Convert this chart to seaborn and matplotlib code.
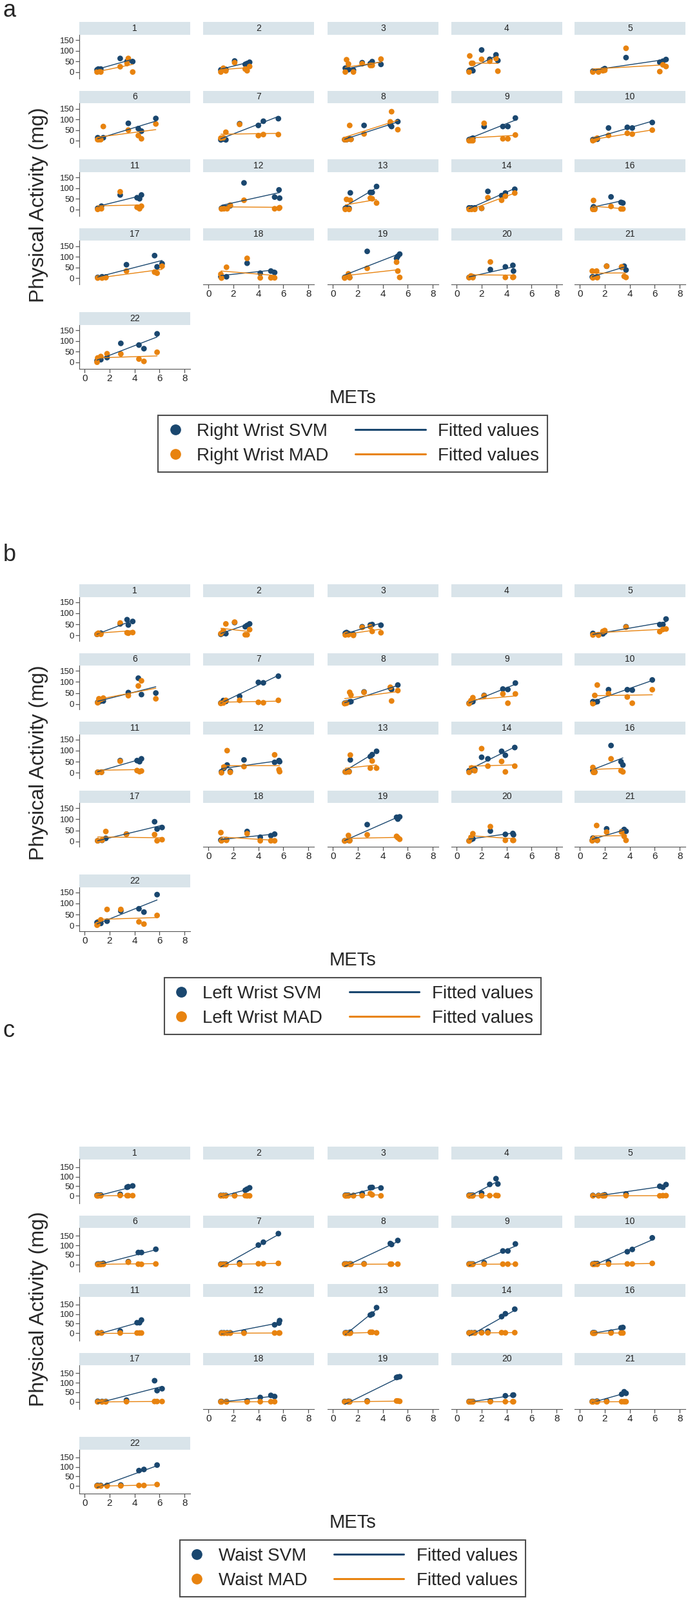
import numpy as np
import pandas as pd
import seaborn as sns
import matplotlib
matplotlib.use("Agg")
import matplotlib.pyplot as plt
from matplotlib.lines import Line2D
from matplotlib.patches import Rectangle
from matplotlib.legend_handler import HandlerLine2D

# subjects shown in each facet grid (15 is missing)
subjects = [1, 2, 3, 4, 5, 6, 7, 8, 9, 10, 11, 12, 13, 14, 16, 17, 18, 19, 20, 21, 22]

# METs of each activity, per subject
mets = {
    1: [1.0, 1.1, 1.3, 2.85, 3.4, 3.5, 3.85],
    2: [1.0, 1.2, 1.4, 2.1, 2.95, 3.1, 3.3],
    3: [1.0, 1.1, 1.25, 1.65, 2.35, 3.0, 3.15, 3.85],
    4: [1.0, 1.05, 1.2, 1.3, 2.0, 2.65, 3.15, 3.3],
    5: [1.05, 1.5, 1.85, 2.0, 3.7, 6.4, 6.65, 6.9],
    6: [1.05, 1.15, 1.3, 1.5, 3.5, 4.3, 4.55, 5.7],
    7: [1.0, 1.2, 1.4, 2.5, 4.0, 4.4, 5.6],
    8: [0.95, 1.1, 1.35, 1.45, 2.5, 4.6, 4.7, 5.2],
    9: [1.0, 1.15, 1.3, 2.2, 3.7, 4.1, 4.7],
    10: [1.05, 1.2, 1.4, 2.3, 3.8, 4.2, 5.8],
    11: [1.05, 1.35, 2.85, 4.2, 4.4, 4.55],
    12: [1.05, 1.25, 1.5, 1.75, 2.85, 5.3, 5.65, 5.7],
    13: [1.0, 1.1, 1.3, 1.4, 3.0, 3.15, 3.5],
    14: [1.0, 1.2, 1.45, 2.0, 2.5, 3.6, 3.9, 4.65],
    16: [1.05, 1.1, 1.2, 2.5, 3.3, 3.45],
    17: [1.05, 1.4, 1.7, 3.35, 5.6, 5.8, 6.2],
    18: [1.0, 1.05, 1.45, 3.1, 4.15, 5.0, 5.3],
    19: [0.95, 1.25, 1.35, 2.75, 5.1, 5.2, 5.35],
    20: [1.0, 1.15, 1.3, 2.7, 3.9, 4.5, 4.55],
    21: [1.0, 1.05, 1.35, 1.4, 2.15, 3.35, 3.55, 3.7],
    22: [1.0, 1.05, 1.3, 1.8, 2.9, 4.35, 4.75, 5.8],
}

# right wrist (panel a)
rw_svm = {
    1: [10, 14, 14, 64, 50, 55, 49], 2: [10, 15, 12, 52, 36, 40, 46],
    3: [18, 15, 11, 9, 44, 40, 49, 36], 4: [5, 8, 10, 6, 104, 60, 81, 54],
    5: [4, 4, 11, 16, 68, 46, 51, 59], 6: [14, 10, 8, 14, 82, 57, 45, 105],
    7: [4, 8, 4, 80, 72, 92, 104], 8: [5, 5, 8, 7, 72, 75, 67, 90],
    9: [5, 8, 12, 67, 67, 67, 107], 10: [5, 6, 7, 60, 63, 60, 86],
    11: [5, 15, 68, 55, 50, 68], 12: [5, 10, 8, 17, 125, 58, 92, 53],
    13: [5, 8, 5, 78, 80, 80, 108], 14: [7, 7, 7, 5, 85, 65, 77, 95],
    16: [5, 12, 6, 59, 33, 30], 17: [3, 6, 5, 63, 106, 53, 68],
    18: [6, 5, 6, 70, 23, 33, 26], 19: [3, 10, 3, 126, 93, 103, 113],
    20: [3, 5, 6, 40, 53, 60, 33], 21: [5, 5, 5, 5, 56, 51, 56, 38],
    22: [7, 10, 12, 22, 89, 81, 64, 134],
}
rw_mad = {
    1: [0, 2, 0, 25, 40, 64, 0], 2: [0, 18, 5, 44, 14, 6, 26],
    3: [0, 58, 38, 0, 39, 31, 31, 61], 4: [0, 76, 41, 41, 60, 51, 64, 4],
    5: [0, 0, 6, 8, 112, 2, 34, 26], 6: [5, 5, 5, 67, 50, 24, 9, 79],
    7: [12, 14, 40, 77, 24, 29, 29], 8: [5, 5, 72, 6, 32, 89, 137, 52],
    9: [0, 0, 0, 82, 9, 9, 27], 10: [0, 5, 12, 25, 35, 31, 50],
    11: [0, 3, 83, 10, 3, 15], 12: [2, 3, 3, 20, 43, 3, 5, 8],
    13: [0, 47, 0, 43, 53, 50, 30], 14: [0, 0, 0, 5, 55, 43, 62, 77],
    16: [0, 42, 0, 14, 2, 2], 17: [0, 0, 2, 33, 28, 23, 56],
    18: [18, 0, 51, 93, 1, 1, 1], 19: [0, 20, 2, 46, 75, 33, 3],
    20: [2, 10, 2, 76, 3, 3, 5], 21: [33, 1, 33, 2, 56, 53, 8, 3],
    22: [0, 20, 27, 40, 39, 15, 4, 47],
}

# left wrist (panel b), subject 4 has no data
lw_svm = {
    1: [5, 8, 10, 52, 71, 47, 63], 2: [5, 10, 8, 58, 39, 45, 52],
    3: [10, 13, 8, 5, 39, 47, 49, 46], 4: None,
    5: [9, 3, 7, 15, 39, 49, 49, 74], 6: [8, 10, 14, 14, 52, 117, 43, 50],
    7: [5, 16, 12, 35, 98, 96, 126], 8: [4, 6, 10, 11, 55, 73, 66, 86],
    9: [4, 8, 11, 39, 68, 66, 95], 10: [11, 8, 11, 65, 65, 63, 109],
    11: [2, 3, 55, 55, 50, 63], 12: [5, 21, 35, 7, 58, 47, 55, 50],
    13: [4, 4, 6, 58, 73, 82, 97], 14: [9, 12, 16, 70, 63, 97, 79, 114],
    16: [9, 4, 4, 123, 50, 35], 17: [3, 5, 14, 33, 89, 56, 63],
    18: [6, 4, 8, 45, 19, 26, 33], 19: [3, 5, 5, 76, 109, 101, 111],
    20: [3, 8, 12, 47, 32, 36, 30], 21: [5, 15, 8, 5, 57, 44, 54, 46],
    22: [14, 10, 10, 20, 66, 76, 61, 140],
}
lw_mad = {
    1: [5, 10, 5, 56, 12, 10, 13], 2: [8, 21, 52, 60, 3, 3, 26],
    3: [2, 5, 3, 0, 36, 39, 18, 12], 4: None,
    5: [2, 1, 18, 22, 37, 17, 27, 29], 6: [6, 24, 21, 27, 38, 82, 105, 24],
    7: [3, 5, 17, 17, 8, 6, 17], 8: [2, 4, 53, 41, 53, 76, 14, 61],
    9: [2, 16, 29, 37, 46, 4, 46], 10: [2, 39, 86, 47, 32, 4, 65],
    11: [2, 2, 52, 10, 5, 8], 12: [0, 26, 100, 2, 28, 81, 14, 5],
    13: [4, 4, 4, 80, 21, 53, 21], 14: [2, 22, 9, 109, 30, 51, 4, 30],
    16: [24, 2, 2, 63, 9, 4], 17: [3, 6, 45, 33, 31, 3, 8],
    18: [40, 3, 5, 35, 3, 3, 3], 19: [2, 27, 3, 30, 23, 17, 10],
    20: [2, 18, 35, 67, 5, 5, 5], 21: [3, 10, 72, 5, 42, 42, 23, 5],
    22: [2, 5, 26, 73, 73, 17, 7, 46],
}

# waist (panel c)
wa_svm = {
    1: [3, 4, 4, 8, 45, 48, 52], 2: [2, 2, 2, 3, 29, 35, 42],
    3: [3, 3, 3, 2, 12, 43, 44, 41], 4: [3, 3, 3, 3, 14, 60, 90, 62],
    5: [2, 2, 2, 5, 10, 50, 45, 59], 6: [3, 3, 3, 6, 15, 63, 63, 80],
    7: [2, 2, 2, 9, 102, 117, 162], 8: [3, 3, 3, 3, 4, 110, 105, 126],
    9: [3, 3, 3, 9, 71, 71, 108], 10: [3, 5, 5, 13, 67, 79, 140],
    11: [2, 2, 11, 55, 55, 69], 12: [2, 2, 2, 2, 5, 44, 53, 66],
    13: [2, 2, 2, 5, 95, 100, 134], 14: [2, 2, 3, 5, 10, 87, 102, 126],
    16: [2, 2, 2, 5, 28, 30], 17: [3, 2, 2, 9, 111, 59, 69],
    18: [2, 2, 2, 5, 23, 34, 28], 19: [2, 3, 2, 5, 128, 130, 132],
    20: [2, 2, 2, 5, 32, 35, 36], 21: [2, 2, 3, 3, 5, 40, 53, 45],
    22: [2, 3, 3, 3, 5, 81, 87, 110],
}
wa_mad = {
    1: [0, 0, 0, 2, 1, 1, 1], 2: [0, 0, 0, 0, 1, 0, 0],
    3: [0, 0, 0, 0, 1, 12, 5, 0], 4: [0, 0, 0, 0, 0, 1, 2, 1],
    5: [0, 0, 0, 0, 1, 0, 1, 1], 6: [0, 0, 0, 1, 12, 2, 1, 3],
    7: [0, 0, 0, 1, 4, 4, 6], 8: [1, 1, 1, 1, 2, 2, 2, 2],
    9: [1, 1, 1, 2, 2, 2, 2], 10: [1, 1, 1, 2, 3, 3, 6],
    11: [1, 1, 1, 1, 1, 1], 12: [0, 0, 0, 0, 0, 1, 1, 1],
    13: [0, 0, 0, 0, 5, 5, 2], 14: [1, 1, 1, 2, 2, 3, 2, 3],
    16: [0, 0, 0, 1, 1, 1], 17: [0, 0, 0, 1, 2, 2, 2],
    18: [0, 0, 0, 0, 1, 1, 1], 19: [0, 0, 0, 1, 5, 5, 3],
    20: [0, 0, 0, 1, 1, 1, 1], 21: [0, 0, 0, 0, 1, 1, 1, 1],
    22: [0, 0, 0, 0, 1, 3, 3, 8],
}

panel_letters = ["a", "b", "c"]
panel_sites = ["Right Wrist", "Left Wrist", "Waist"]
panel_svm = [rw_svm, lw_svm, wa_svm]
panel_mad = [rw_mad, lw_mad, wa_mad]
panel_ylims = [(-30, 177), (-24, 174), (-38, 192)]

W, H = 1067, 2481
navy = "#1a476f"
orange = "#e8830f"
strip_col = "#d9e4ea"
spine_col = "#555555"

sns.set_style("white")
plt.rcParams["font.family"] = ["Liberation Sans", "DejaVu Sans"]

fig = plt.figure(figsize=(W / 100, H / 100), dpi=100)


def px_axes(left, top, width, height):
    return fig.add_axes([left / W, 1 - (top + height) / H, width / W, height / H])


class LongLine(HandlerLine2D):
    # stretch the fitted-line handle to the left, like the Stata legend
    def create_artists(self, legend, orig_handle, xdescent, ydescent, width, height, fontsize, trans):
        extra = 2.9 * fontsize
        return super().create_artists(legend, orig_handle, xdescent + extra, ydescent,
                                      width + extra, height, fontsize, trans)


col_left = [123, 315, 508, 700, 891]
col_w = 172
row_top = [34, 140.5, 247, 353.5, 484]
strip_h = 19.5
plot_h = 68

offsets = [0, 872, 1744]
letter_y = [16, 860, 1598]
ylab_y = [318, 1183, 2030]

for p in range(3):
    off = offsets[p]
    svm, mad = panel_svm[p], panel_mad[p]
    for i, subj in enumerate(subjects):
        r, c = divmod(i, 5)
        ax = px_axes(col_left[c], off + row_top[r] + strip_h, col_w, plot_h)

        if svm[subj] is not None:
            x = mets[subj]
            df = pd.DataFrame({
                "METs": x + x,
                "mg": svm[subj] + mad[subj],
                "measure": ["SVM"] * len(x) + ["MAD"] * len(x),
            })
            sns.scatterplot(data=df, x="METs", y="mg", hue="measure",
                            palette={"SVM": navy, "MAD": orange}, s=40,
                            linewidth=0, legend=False, ax=ax, zorder=2)
            for m, col in [("SVM", navy), ("MAD", orange)]:
                sns.regplot(data=df[df["measure"] == m], x="METs", y="mg",
                            scatter=False, ci=None, color=col,
                            line_kws={"lw": 1.0, "zorder": 3}, ax=ax)

        ax.set_xlim(-0.42, 8.45)
        ax.set_ylim(*panel_ylims[p])
        ax.set_xlabel("")
        ax.set_ylabel("")
        ax.set_facecolor("white")
        for s in ax.spines.values():
            s.set_visible(False)

        # facet strip
        ax.add_patch(Rectangle((0, 1), 1, strip_h / plot_h, transform=ax.transAxes,
                               facecolor=strip_col, edgecolor="none", clip_on=False))
        ax.text(0.5, 1 + strip_h / plot_h / 2, str(subj), transform=ax.transAxes,
                ha="center", va="center", fontsize=10, color="#222222")

        if c == 0:
            ax.spines["left"].set_visible(True)
            ax.spines["left"].set_color(spine_col)
            ax.set_yticks([0, 50, 100, 150])
            ax.tick_params(axis="y", length=4, width=0.9, color=spine_col,
                           labelsize=9.5, pad=1.5, labelcolor="#222222", left=True)
        else:
            ax.set_yticks([])

        bottom = r == 4 or (r == 3 and c > 0)
        if bottom:
            ax.spines["bottom"].set_visible(True)
            ax.spines["bottom"].set_color(spine_col)
            ax.set_xticks([0, 2, 4, 6, 8])
            ax.tick_params(axis="x", length=4, width=0.9, color=spine_col,
                           labelsize=11, pad=2, labelcolor="#222222", bottom=True)
        else:
            ax.set_xticks([])

    fig.text(5 / W, 1 - letter_y[p] / H, panel_letters[p], fontsize=26,
             ha="left", va="center")
    fig.text(60 / W, 1 - ylab_y[p] / H, "Physical Activity (mg)", rotation=90,
             fontsize=23, ha="center", va="center")
    fig.text(547 / W, 1 - (617 + off) / H, "METs", fontsize=21,
             ha="center", va="center")

    site = panel_sites[p]
    h_svm = Line2D([], [], ls="", marker="o", markersize=11, color=navy)
    h_mad = Line2D([], [], ls="", marker="o", markersize=11, color=orange)
    f_svm = Line2D([], [], color=navy, lw=2.2)
    f_mad = Line2D([], [], color=orange, lw=2.2)
    leg = fig.legend([h_svm, h_mad, f_svm, f_mad],
                     [site + " SVM", site + " MAD", "Fitted values", "Fitted values"],
                     loc="center", bbox_to_anchor=(547 / W, 1 - (688 + off) / H),
                     ncol=2, fontsize=20, handlelength=1.0, handletextpad=0.7,
                     columnspacing=4.4, labelspacing=0.42, borderpad=0.45,
                     frameon=True, fancybox=False, edgecolor="#222222",
                     handler_map={f_svm: LongLine(), f_mad: LongLine()})
    leg.get_frame().set_linewidth(1.5)

fig.savefig("out.png", dpi=100)
